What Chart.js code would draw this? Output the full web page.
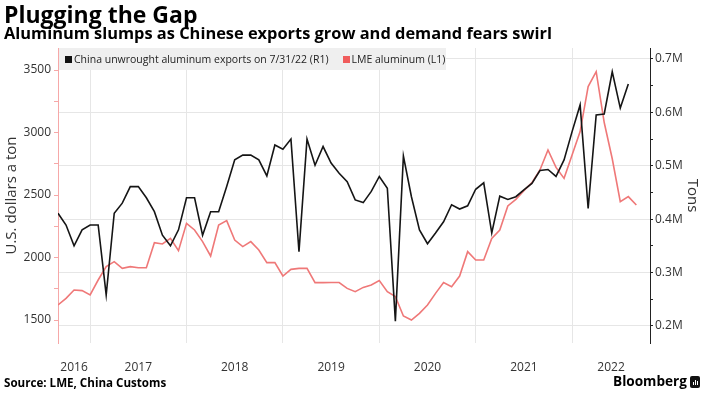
<!DOCTYPE html>
<html>
<head>
<meta charset="utf-8">
<script src="https://cdn.jsdelivr.net/npm/chart.js@4"></script>
<style>
  body { margin: 0; background: #fff; font-family: "Open Sans", sans-serif; }
  #wrap { position: relative; width: 704px; height: 399px; overflow: hidden; }
  #chart { position: absolute; left: 0; top: 0; }
  .txt { position: absolute; white-space: nowrap; color: #000; line-height: 1; }
  #title { left: 4px; top: 3px; font-size: 23px; font-weight: 700; }
  #subtitle { left: 4px; top: 25px; font-size: 16.4px; font-weight: 700; }
  #legend { position: absolute; left: 59px; top: 48px; width: 387px; height: 22px; background: #efefef;
            font-size: 10.5px; color: #222; line-height: 22px; white-space: nowrap; }
  #legend span.sq { display: inline-block; width: 7px; height: 7px; margin: 0 2px 0 6px; vertical-align: 0px; }
  #source { left: 4px; top: 377px; font-size: 11.6px; font-weight: 700; }
  #brand { left: 613px; top: 374px; font-size: 13.6px; font-weight: 700; }
  #logo { position: absolute; left: 690px; top: 376px; width: 10px; height: 12px; background: #111; border-radius: 2px; }
  #logo i { position: absolute; bottom: 3px; width: 1px; background: #fff; }
</style>
</head>
<body>
<div id="wrap">
  <canvas id="chart" width="704" height="399"></canvas>
  <div class="txt" id="title">Plugging the Gap</div>
  <div class="txt" id="subtitle">Aluminum slumps as Chinese exports grow and demand fears swirl</div>
  <div id="legend"><span class="sq" style="background:#111"></span>China unwrought aluminum exports on 7/31/22 (R1)<span class="sq" style="background:#f05c5c;margin-left:14px"></span>LME aluminum (L1)</div>
  <div class="txt" id="source">Source: LME, China Customs</div>
  <div class="txt" id="brand">Bloomberg</div>
  <div id="logo"><i style="left:3px;height:3px"></i><i style="left:5px;height:5px"></i><i style="left:7px;height:4px"></i></div>
</div>
<script>
// monthly points, month end, Aug 2016 .. Aug 2022
const months = [
  '2016-08','2016-09','2016-10','2016-11','2016-12',
  '2017-01','2017-02','2017-03','2017-04','2017-05','2017-06','2017-07','2017-08','2017-09','2017-10','2017-11','2017-12',
  '2018-01','2018-02','2018-03','2018-04','2018-05','2018-06','2018-07','2018-08','2018-09','2018-10','2018-11','2018-12',
  '2019-01','2019-02','2019-03','2019-04','2019-05','2019-06','2019-07','2019-08','2019-09','2019-10','2019-11','2019-12',
  '2020-01','2020-02','2020-03','2020-04','2020-05','2020-06','2020-07','2020-08','2020-09','2020-10','2020-11','2020-12',
  '2021-01','2021-02','2021-03','2021-04','2021-05','2021-06','2021-07','2021-08','2021-09','2021-10','2021-11','2021-12',
  '2022-01','2022-02','2022-03','2022-04','2022-05','2022-06','2022-07','2022-08'
];

// China unwrought aluminum exports, thousand tons (R1)
const exportsKt = [
  411, 389, 350, 380, 389,
  389, 258, 411, 430, 461, 461, 440, 414, 370, 350, 380, 440,
  440, 370, 414, 414, 461, 511, 520, 520, 511, 481, 539, 531,
  550, 339, 550, 501, 536, 505, 486, 470, 436, 431, 452, 480,
  458, 209, 518, 442, 380, 354, 374, 395, 427, 419, 425, 456,
  468, 374, 443, 437, 442, 455, 467, 491, 493, 480, 511, 564,
  614, 420, 595, 597, 676, 608, 653, null
];

// LME aluminum, USD a ton (L1)
const lme = [
  1620, 1673, 1740, 1735, 1700,
  1820, 1927, 1967, 1913, 1927, 1918, 1918, 2118, 2108, 2153, 2055, 2273,
  2220, 2127, 2012, 2260, 2295, 2140, 2087, 2127, 2060, 1959, 1959, 1852,
  1905, 1913, 1913, 1799, 1799, 1800, 1800, 1753, 1727, 1761, 1780, 1815,
  1727, 1687, 1532, 1500, 1553, 1620, 1713, 1799, 1767, 1852, 2047, 1980,
  1980, 2153, 2220, 2412, 2465, 2535, 2599, 2700, 2860, 2721, 2633, 2820,
  3007, 3367, 3487, 3080, 2790, 2447, 2487, 2420
];

const yearLabels = ['2016', '2017', '2018', '2019', '2020', '2021', '2022'];
const leftTicks = [1500, 1750, 2000, 2250, 2500, 2750, 3000, 3250, 3500];
const rightTicks = [200000, 250000, 300000, 350000, 400000, 450000, 500000, 550000, 600000, 650000, 700000];

const X_MIN = 8, X_MAX = 81.7;

// month end position, months since start of 2016
function monthPos(m) {
  const [y, mo] = m.split('-').map(Number);
  return (y - 2016) * 12 + mo;
}

// x ticks: year boundaries (grid) and year midpoints (labels)
const xTicks = [];
const midLabel = {};
yearLabels.forEach((yr, i) => {
  const start = i * 12, end = start + 12;
  if (start > X_MIN) xTicks.push({ value: start });
  const mid = (Math.max(start, X_MIN) + Math.min(end, X_MAX)) / 2;
  midLabel[mid] = yr;
  xTicks.push({ value: mid });
});

const ctx = document.getElementById('chart').getContext('2d');
new Chart(ctx, {
  type: 'line',
  data: {
    datasets: [
      {
        label: 'China unwrought aluminum exports on 7/31/22 (R1)',
        data: months.map((m, i) => ({ x: monthPos(m), y: exportsKt[i] == null ? null : exportsKt[i] * 1000 })),
        yAxisID: 'yR',
        borderColor: '#151515',
        borderWidth: 1.6,
        pointRadius: 0,
        tension: 0
      },
      {
        label: 'LME aluminum (L1)',
        data: months.map((m, i) => ({ x: monthPos(m), y: lme[i] })),
        yAxisID: 'yL',
        borderColor: '#ef7878',
        borderWidth: 1.6,
        pointRadius: 0,
        tension: 0
      }
    ]
  },
  options: {
    responsive: false,
    animation: false,
    devicePixelRatio: 1,
    layout: { padding: { top: 48, left: 0, right: 0, bottom: 0 } },
    plugins: { legend: { display: false }, tooltip: { enabled: false } },
    scales: {
      x: {
        type: 'linear',
        min: X_MIN,
        max: X_MAX,
        afterBuildTicks: s => { s.ticks = xTicks.map(t => ({ value: t.value })); },
        afterFit: s => { s.height = 56; },
        border: { display: false },
        grid: {
          drawTicks: false,
          color: c => (c.tick && midLabel[c.tick.value] === undefined) ? '#e6e6e6' : 'rgba(0,0,0,0)'
        },
        ticks: {
          autoSkip: false,
          maxRotation: 0,
          padding: 17,
          color: '#333',
          font: { family: 'Open Sans', size: 12 },
          callback: v => midLabel[v] || ''
        }
      },
      yL: {
        type: 'linear',
        position: 'left',
        min: 1316,
        max: 3676,
        afterBuildTicks: s => { s.ticks = leftTicks.map(v => ({ value: v })); },
        afterFit: s => { s.width = 58; },
        border: { display: true, color: '#f6a8a8', width: 1 },
        grid: { drawOnChartArea: false, tickLength: 4, tickColor: '#f6a8a8' },
        ticks: {
          padding: 3,
          color: '#333',
          font: { family: 'Open Sans', size: 12 },
          callback: v => v % 500 === 0 ? String(v) : ''
        },
        title: {
          display: true,
          text: 'U.S. dollars a ton',
          color: '#333',
          font: { family: 'Open Sans', size: 15 },
          padding: { top: 3, bottom: 0 }
        }
      },
      yR: {
        type: 'linear',
        position: 'right',
        min: 168000,
        max: 720600,
        afterBuildTicks: s => { s.ticks = rightTicks.map(v => ({ value: v })); },
        afterFit: s => { s.width = 54; },
        border: { display: true, color: '#222', width: 1 },
        grid: {
          tickLength: 3,
          tickColor: '#222',
          color: c => (c.tick && c.tick.value % 100000 === 0) ? '#e6e6e6' : 'rgba(0,0,0,0)'
        },
        ticks: {
          padding: 2,
          color: '#333',
          font: { family: 'Open Sans', size: 12 },
          callback: v => v % 100000 === 0 ? (v / 1e6).toFixed(1) + 'M' : ''
        },
        title: {
          display: true,
          text: 'Tons',
          color: '#333',
          font: { family: 'Open Sans', size: 15 },
          padding: { top: 3, bottom: 0 }
        }
      }
    }
  }
});
</script>
</body>
</html>
